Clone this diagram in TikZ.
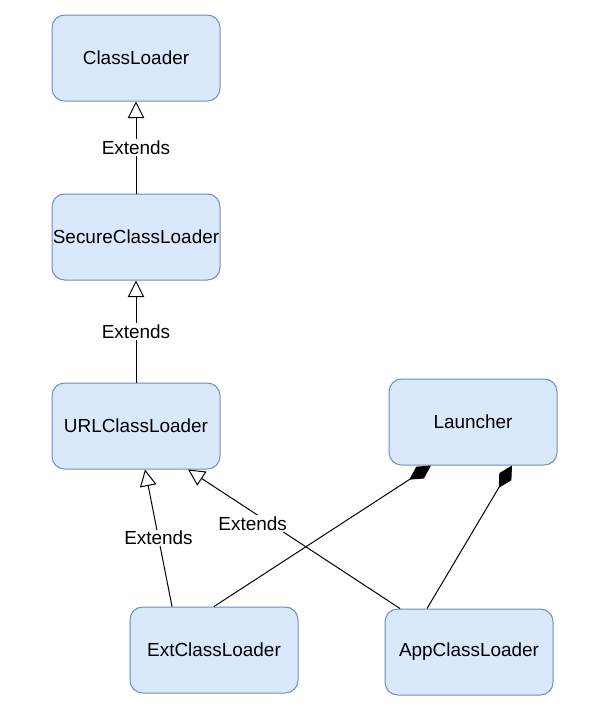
\documentclass[tikz,border=0pt]{standalone}
\usepackage{fontspec}
\setmainfont{Liberation Sans}
\usepackage{tikz}
\usetikzlibrary{arrows.meta, positioning, calc}
\definecolor{boxfill}{HTML}{DAE8FC}
\definecolor{boxline}{HTML}{6C8EBF}

\begin{document}
\begin{tikzpicture}[x=0.75pt, y=-0.75pt, semithick, font=\fontsize{14.2}{16}\selectfont,
		cls/.style={rectangle, rounded corners=9.5pt, draw=boxline, fill=boxfill, line width=0.75pt, minimum width=126pt, minimum height=64.5pt, inner sep=0pt},
		extends/.style={-{Triangle[open, length=12.5pt, width=12.5pt]}, line width=0.75pt},
		owns/.style={-{Diamond[length=19.5pt, width=10.5pt]}, line width=0.75pt},
		lbl/.style={fill=white, inner sep=1pt}]
		\useasboundingbox (0,0) rectangle (604,719);

		\node[cls] (ClassLoader) at (136,58) {ClassLoader};
		\node[cls] (SecureLoader) at (136,237) {SecureClassLoader};
		\node[cls] (URLLoader) at (136,426) {URLClassLoader};
		\node[cls] (Launcher) at (473,422) {Launcher};
		\node[cls] (ExtLoader) at (214,650) {ExtClassLoader};
		\node[cls] (AppLoader) at (469,652) {AppClassLoader};

		\draw[extends] (SecureLoader) -- node[lbl] {Extends} (ClassLoader);
		\draw[extends] (URLLoader) -- node[lbl] {Extends} (SecureLoader);

		\draw[extends] ($(ExtLoader.north)+(-42,0)$) -- node[lbl] {Extends}
			($(URLLoader.south)+(9,0)$);
		\draw[extends] ($(AppLoader.north)+(-69,0)$) -- node[lbl, pos=0.61, xshift=-13.5pt] {Extends}
			($(URLLoader.south)+(52,0)$);

		\draw[owns] (ExtLoader.north) -- ($(Launcher.south)+(-42,0)$);
		\draw[owns] ($(AppLoader.north)+(-42,0)$) -- ($(Launcher.south)+(39,0)$);

	\end{tikzpicture}
\end{document}
